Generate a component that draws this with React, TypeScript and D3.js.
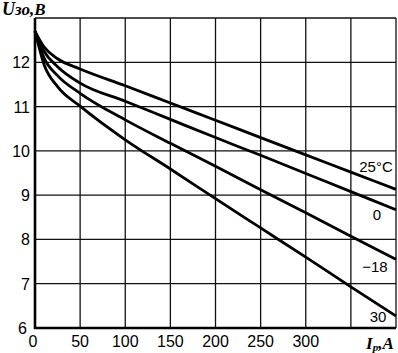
import { useEffect, useRef } from 'react'
import * as d3 from 'd3'

// current, A
const currents = [0, 10, 25, 50, 100, 150, 200, 250, 300, 350, 400]

// U, V per temperature
const u25 = [12.7, 12.35, 12.08, 11.85, 11.47, 11.08, 10.69, 10.3, 9.91, 9.52, 9.13]
const u0 = [12.7, 12.25, 11.9, 11.53, 11.12, 10.71, 10.3, 9.9, 9.49, 9.08, 8.67]
const uMinus18 = [12.7, 12.1, 11.7, 11.3, 10.7, 10.17, 9.65, 9.12, 8.6, 8.07, 7.55]
const u30 = [12.7, 11.95, 11.45, 11.01, 10.25, 9.59, 8.92, 8.26, 7.6, 6.93, 6.27]

const curveLabels = ['25°C', '0', '−18', '30']
const xTicks = [0, 50, 100, 150, 200, 250, 300]
const xGrid = [50, 100, 150, 200, 250, 300, 350, 400]
const yTicks = [6, 7, 8, 9, 10, 11, 12]
const yGrid = [7, 8, 9, 10, 11, 12, 13]

export default function App() {
  const svgRef = useRef<SVGSVGElement>(null)

  useEffect(() => {
    if (!svgRef.current) return
    const svg = d3.select(svgRef.current)
    svg.selectAll('*').remove()

    const x = d3.scaleLinear().domain([0, 400]).range([35, 396])
    const y = d3.scaleLinear().domain([6, 13]).range([328, 18])

    const font = '"Liberation Sans", Arial, sans-serif'

    // grid
    svg.append('g')
      .selectAll('line')
      .data(xGrid)
      .enter()
      .append('line')
      .attr('x1', d => x(d))
      .attr('x2', d => x(d))
      .attr('y1', y(13))
      .attr('y2', y(6))
      .attr('stroke', '#111')
      .attr('stroke-width', 1.3)

    svg.append('g')
      .selectAll('line')
      .data(yGrid)
      .enter()
      .append('line')
      .attr('x1', x(0))
      .attr('x2', x(400))
      .attr('y1', d => y(d))
      .attr('y2', d => y(d))
      .attr('stroke', '#111')
      .attr('stroke-width', 1.3)

    // axes
    svg.append('line')
      .attr('x1', x(0)).attr('x2', x(0))
      .attr('y1', y(13)).attr('y2', y(6) + 1)
      .attr('stroke', '#000').attr('stroke-width', 2.6)
    svg.append('line')
      .attr('x1', x(0) - 1).attr('x2', x(400))
      .attr('y1', y(6)).attr('y2', y(6))
      .attr('stroke', '#000').attr('stroke-width', 2.6)

    // curves
    const series = [u25, u0, uMinus18, u30]
    const line = d3.line<number>()
      .x((_, i) => x(currents[i]))
      .y(d => y(d))
      .curve(d3.curveMonotoneX)

    svg.append('g')
      .selectAll('path')
      .data(series)
      .enter()
      .append('path')
      .attr('d', d => line(d))
      .attr('fill', 'none')
      .attr('stroke', '#000')
      .attr('stroke-width', 2.8)

    // curve labels
    const labelPos = [
      { cx: 376, cy: 172 },
      { cx: 377, cy: 220 },
      { cx: 375, cy: 272 },
      { cx: 378, cy: 322 }
    ]
    svg.append('g')
      .selectAll('text')
      .data(curveLabels)
      .enter()
      .append('text')
      .attr('x', (_, i) => labelPos[i].cx)
      .attr('y', (_, i) => labelPos[i].cy)
      .attr('text-anchor', 'middle')
      .attr('font-family', font)
      .attr('font-size', 15)
      .attr('fill', '#000')
      .text(d => d)

    // tick labels
    svg.append('g')
      .selectAll('text')
      .data(yTicks)
      .enter()
      .append('text')
      .attr('x', d => (d === 6 ? 27 : 30))
      .attr('y', d => y(d) + 6)
      .attr('text-anchor', 'end')
      .attr('font-family', font)
      .attr('font-size', 16)
      .attr('fill', '#000')
      .text(d => d)

    svg.append('g')
      .selectAll('text')
      .data(xTicks)
      .enter()
      .append('text')
      .attr('x', d => (d === 0 ? x(d) - 2 : x(d)))
      .attr('y', 347)
      .attr('text-anchor', 'middle')
      .attr('font-family', font)
      .attr('font-size', 16)
      .attr('fill', '#000')
      .text(d => d)

    // axis titles
    const serif = '"Liberation Serif", "Times New Roman", serif'
    const yTitle = svg.append('text')
      .attr('x', 2)
      .attr('y', 15)
      .attr('font-family', serif)
      .attr('font-weight', 'bold')
      .attr('font-style', 'italic')
      .attr('font-size', 18)
      .attr('fill', '#000')
    yTitle.append('tspan').text('U')
    yTitle.append('tspan').attr('font-size', 17).text('зо,В')

    const xTitle = svg.append('text')
      .attr('x', 366)
      .attr('y', 349)
      .attr('font-family', serif)
      .attr('font-weight', 'bold')
      .attr('font-style', 'italic')
      .attr('font-size', 17)
      .attr('fill', '#000')
    xTitle.append('tspan').text('I')
    xTitle.append('tspan').attr('font-size', 11).attr('dy', 2).text('р')
    xTitle.append('tspan').attr('dy', -2).text(',А')
  }, [])

  return (
    <svg
      ref={svgRef}
      width={398}
      height={353}
      style={{ position: 'absolute', left: 0, top: 0, background: '#fff' }}
    />
  )
}
